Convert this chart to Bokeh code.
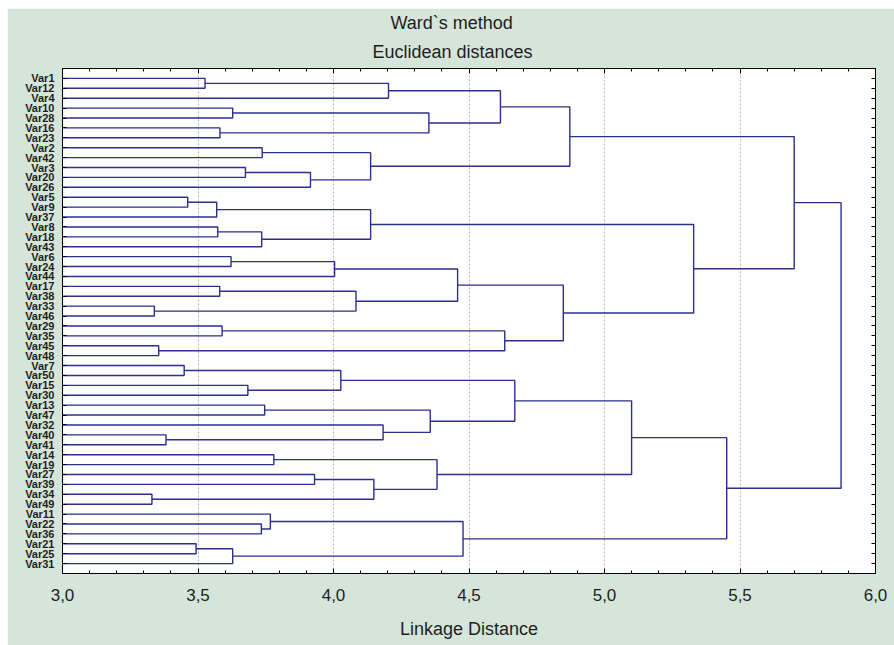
from bokeh.plotting import figure
from bokeh.models import Range1d, LinearAxis, FixedTicker, CustomJSTickFormatter, Title
from bokeh.embed import file_html
from bokeh.resources import INLINE

# ---------------- data ----------------
leaves = ["Var1", "Var12", "Var4", "Var10", "Var28", "Var16", "Var23", "Var2", "Var42",
          "Var3", "Var20", "Var26", "Var5", "Var9", "Var37", "Var8", "Var18", "Var43",
          "Var6", "Var24", "Var44", "Var17", "Var38", "Var33", "Var46", "Var29", "Var35",
          "Var45", "Var48", "Var7", "Var50", "Var15", "Var30", "Var13", "Var47", "Var32",
          "Var40", "Var41", "Var14", "Var19", "Var27", "Var39", "Var34", "Var49", "Var11",
          "Var22", "Var36", "Var21", "Var25", "Var31"]

# merge k creates cluster "c{k}" from merge_a[k] and merge_b[k] at linkage distance merge_h[k]
merge_a = ["Var1", "c0", "Var10", "Var16", "c2", "c1", "Var2", "Var3", "c7", "c6",
           "c5", "Var5", "c11", "Var8", "c13", "c12", "Var6", "c16", "Var17", "Var33",
           "c18", "c17", "Var29", "Var45", "c22", "c21", "c15", "c10", "Var7", "Var15",
           "c28", "Var13", "Var40", "Var32", "c31", "c30", "Var14", "Var27", "Var34", "c37",
           "c36", "c35", "Var22", "Var11", "Var21", "c44", "c43", "c41", "c27"]
merge_b = ["Var12", "Var4", "Var28", "Var23", "c3", "c4", "Var42", "Var20", "Var26", "c8",
           "c9", "Var9", "Var37", "Var18", "Var43", "c14", "Var24", "Var44", "Var38", "Var46",
           "c19", "c20", "Var35", "Var48", "c23", "c24", "c25", "c26", "Var50", "Var30",
           "c29", "Var47", "Var41", "c32", "c33", "c34", "Var19", "Var39", "Var49", "c38",
           "c39", "c40", "Var36", "c42", "Var25", "Var31", "c45", "c46", "c47"]
merge_h = [3.526, 4.203, 3.628, 3.581, 4.352, 4.616, 3.737, 3.675, 3.915, 4.137,
           4.872, 3.462, 3.569, 3.573, 3.735, 4.137, 3.622, 4.004, 3.580, 3.339,
           4.083, 4.458, 3.589, 3.355, 4.632, 4.848, 5.329, 5.700, 3.449, 3.684,
           4.027, 3.746, 3.382, 4.183, 4.357, 4.669, 3.780, 3.930, 3.330, 4.149,
           4.382, 5.100, 3.734, 3.767, 3.493, 3.628, 4.478, 5.451, 5.873]

x_major_ticks = [3.0, 3.5, 4.0, 4.5, 5.0, 5.5, 6.0]
x_minor_ticks = [3.0, 3.1, 3.2, 3.3, 3.4, 3.5, 3.6, 3.7, 3.8, 3.9, 4.0, 4.1, 4.2, 4.3,
                 4.4, 4.5, 4.6, 4.7, 4.8, 4.9, 5.0, 5.1, 5.2, 5.3, 5.4, 5.5, 5.6, 5.7,
                 5.8, 5.9, 6.0]
title_lines = ["Ward`s method", "Euclidean distances"]
x_label = "Linkage Distance"

# ---------------- layout of the tree ----------------
n = len(leaves)
pos = {name: n - i for i, name in enumerate(leaves)}
hgt = {name: x_major_ticks[0] for name in leaves}
xs, ys = [], []
for k, (a, b, h) in enumerate(zip(merge_a, merge_b, merge_h)):
    ya, yb = pos[a], pos[b]
    xs.append([hgt[a], h, h, hgt[b]])
    ys.append([ya, ya, yb, yb])
    pos[f"c{k}"] = (ya + yb) / 2
    hgt[f"c{k}"] = h

BG = "#d6e5d9"
LINE = "#2b2f8e"
FONT = "Liberation Sans"
TXT = "#1e1e1e"

p = figure(width=887, height=637, x_range=Range1d(3.0, 6.0), y_range=Range1d(0, n + 1),
           output_backend="svg", toolbar_location=None,
           min_border_left=55, min_border_right=19, min_border_top=60, min_border_bottom=72,
           background_fill_color="white", border_fill_color=BG,
           outline_line_color="black", outline_line_width=1)
p.margin = (8, 0, 0, 7)

p.multi_line(xs, ys, line_color=LINE, line_width=1.4)

# bottom axis
xa = p.xaxis[0]
xa.ticker = FixedTicker(ticks=x_major_ticks, minor_ticks=x_minor_ticks)
xa.formatter = CustomJSTickFormatter(code="return tick.toFixed(1).replace('.', ',');")
xa.axis_label = x_label
xa.axis_label_text_font = FONT
xa.axis_label_text_font_size = "18px"
xa.axis_label_text_font_style = "normal"
xa.axis_label_text_color = TXT
xa.axis_label_standoff = 15
xa.major_label_text_font = FONT
xa.major_label_text_font_size = "17px"
xa.major_label_text_color = TXT
xa.major_label_standoff = 15
xa.major_tick_in = 5
xa.major_tick_out = 0
xa.minor_tick_in = 3
xa.minor_tick_out = 0
xa.axis_line_color = "black"

# left axis
ya_ = p.yaxis[0]
leaf_ticks = [pos[nm] for nm in leaves]
ya_.ticker = FixedTicker(ticks=leaf_ticks, minor_ticks=[])
ya_.major_label_overrides = {pos[nm]: nm for nm in leaves}
ya_.major_label_text_font = FONT
ya_.major_label_text_font_size = "11px"
ya_.major_label_text_font_style = "bold"
ya_.major_label_text_color = TXT
ya_.major_label_standoff = 8
ya_.major_tick_in = 4
ya_.major_tick_out = 0
ya_.minor_tick_in = 0
ya_.minor_tick_out = 0
ya_.axis_line_color = "black"

# right axis (ticks only)
ra = LinearAxis(ticker=FixedTicker(ticks=leaf_ticks, minor_ticks=[]),
                formatter=CustomJSTickFormatter(code="return '';"),
                major_tick_in=4, major_tick_out=0, minor_tick_in=0, minor_tick_out=0,
                major_label_standoff=0, axis_line_color="black")
p.add_layout(ra, "right")

# top axis (ticks only)
ta = LinearAxis(ticker=FixedTicker(ticks=x_major_ticks, minor_ticks=x_minor_ticks),
                formatter=CustomJSTickFormatter(code="return '';"),
                major_tick_in=5, major_tick_out=0, minor_tick_in=3, minor_tick_out=0,
                major_label_standoff=0, axis_line_color="black")
p.add_layout(ta, "above")

# titles (added nearest-first)
title_offsets = [328, 310]
title_standoffs = [0, 14]
for line, off, so in reversed(list(zip(title_lines, title_offsets, title_standoffs))):
    p.add_layout(Title(text=line, align="left", offset=off, text_font=FONT,
                       text_font_size="18px", text_font_style="normal",
                       text_color=TXT, standoff=so), "above")

# grid
p.xgrid.ticker = FixedTicker(ticks=x_major_ticks[1:-1])
p.xgrid.grid_line_color = "#b4b4b4"
p.xgrid.grid_line_dash = "2 2"
p.xgrid.grid_line_width = 1
p.ygrid.visible = False

open("out.html", "w").write(file_html(p, INLINE))
